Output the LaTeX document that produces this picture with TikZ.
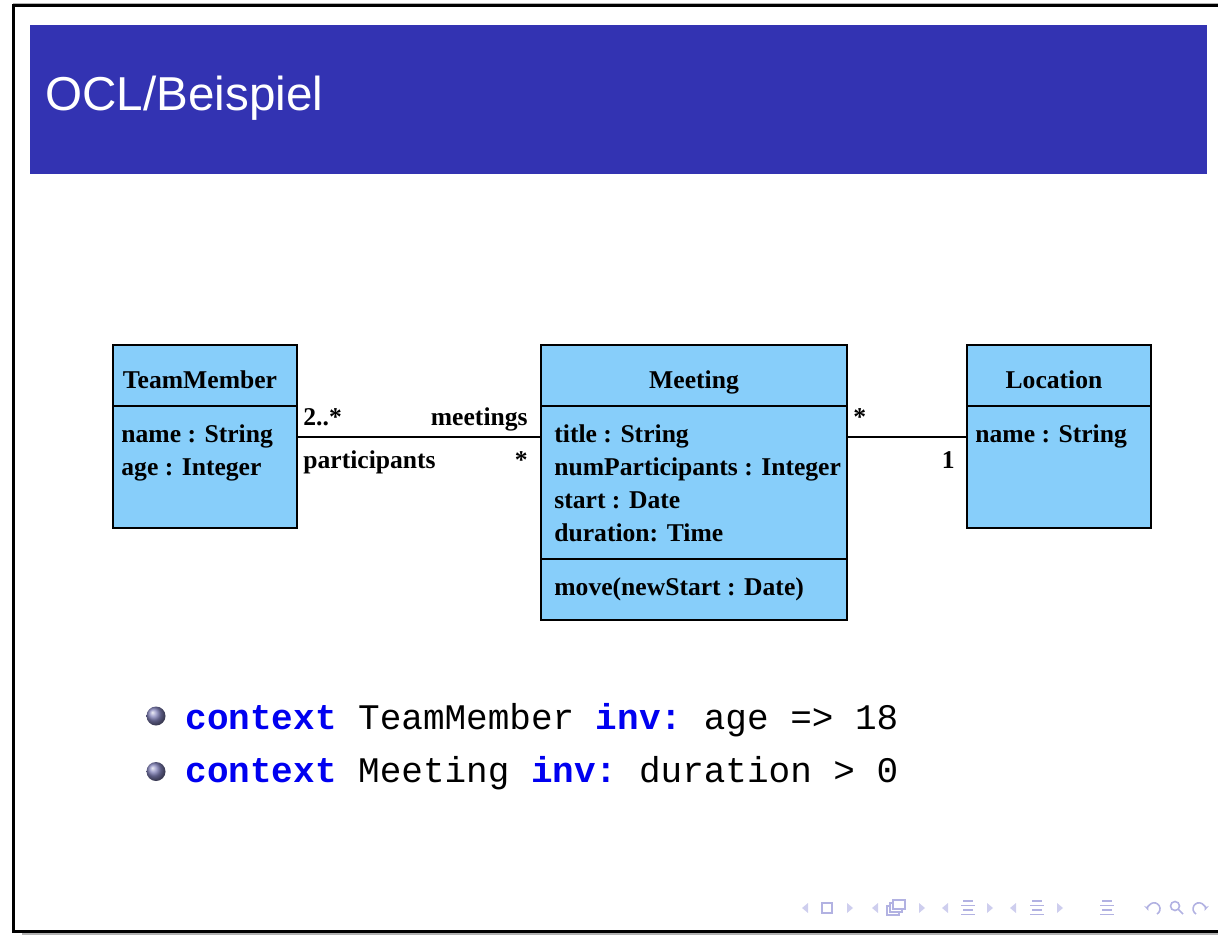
\documentclass[tikz,border=0pt]{standalone}
\usepackage{fontspec}
\setmainfont{Liberation Serif}
\setsansfont{Liberation Sans}
\setmonofont{Liberation Mono}
\usetikzlibrary{positioning,arrows.meta}

\definecolor{titleblue}{RGB}{51,51,178}
\definecolor{classfill}{RGB}{135,206,250}
\definecolor{kwblue}{RGB}{0,0,240}
\definecolor{navblue}{RGB}{178,178,226}
\definecolor{navlight}{RGB}{206,206,238}
\definecolor{balltone}{RGB}{130,130,186}

\newcommand{\kw}[1]{\textcolor{kwblue}{\textbf{#1}}}

\tikzset{
  umlbox/.style={draw=black, line width=1pt, fill=classfill, inner sep=0pt, outer sep=0pt},
  clsname/.style={anchor=base, inner sep=0pt, font=\fontsize{12.8}{16.5}\selectfont\bfseries},
  attrs/.style={anchor=base west, inner sep=0pt, align=left, font=\fontsize{12.8}{16.5}\selectfont\bfseries},
  role/.style={inner sep=0pt, font=\fontsize{12.8}{16.5}\selectfont\bfseries},
  assoc/.style={line width=1pt},
  oclline/.style={anchor=base west, inner sep=0pt, font=\fontsize{18}{22}\selectfont\ttfamily},
  bulletball/.style={circle, inner sep=0pt, minimum size=9.5pt, shading=ball, ball color=balltone},
  nav/.style={draw=navblue, line width=0.8pt},
}

\begin{document}
\begin{tikzpicture}[x=0.5pt, y=-0.5pt]
\useasboundingbox (0,0) rectangle (1218,946);

% frame
\draw[gray!60, line width=0.8pt] (13,3.5) -- (1218,3.5);
\draw[gray!60, line width=0.8pt] (22,934) -- (1218,934);
\draw[line width=1.5pt] (1218,6) -- (13,6) -- (13,931) -- (1218,931);

% title bar
\fill[titleblue] (30,25) rectangle (1207,174);
\node[anchor=base west, inner sep=0pt, text=white, font=\sffamily\fontsize{23.8}{28}\selectfont] (title) at (45,111) {OCL/Beispiel};

% TeamMember (base anchor of a multi-line node = last line)
\node[umlbox, minimum width=92pt, minimum height=30.5pt, anchor=north west] (tmHead) at (113,345) {};
\node[umlbox, minimum width=92pt, minimum height=61pt, below=0pt of tmHead] (tmAttr) {};
\node[clsname] (tmName) at ([shift={(-5,13)}]tmHead.center) {TeamMember};
\node[attrs] (tmText) at ([shift={(8,69)}]tmAttr.north west) {name : String\\age : Integer};

% Meeting
\node[umlbox, minimum width=153pt, minimum height=30.5pt, anchor=north west] (mtHead) at (541,345) {};
\node[umlbox, minimum width=153pt, minimum height=76.5pt, below=0pt of mtHead] (mtAttr) {};
\node[umlbox, minimum width=153pt, minimum height=30.5pt, below=0pt of mtAttr] (mtOps) {};
\node[clsname] (mtName) at ([shift={(0,13)}]mtHead.center) {Meeting};
\node[attrs] (mtText) at ([shift={(13,135)}]mtAttr.north west) {title : String\\numParticipants : Integer\\start : Date\\duration: Time};
\node[attrs] (mtOpText) at ([shift={(13,36)}]mtOps.north west) {move(newStart : Date)};

% Location
\node[umlbox, minimum width=92pt, minimum height=30.5pt, anchor=north west] (locHead) at (967,345) {};
\node[umlbox, minimum width=92pt, minimum height=61pt, below=0pt of locHead] (locAttr) {};
\node[clsname] (locName) at ([shift={(-5,13)}]locHead.center) {Location};
\node[attrs] (locText) at ([shift={(8,36)}]locAttr.north west) {name : String};

% associations
\draw[assoc] ([shift={(0,31)}]tmAttr.north east) coordinate (pEnd) -- ([shift={(0,31)}]mtAttr.north west) coordinate (mEnd);
\node[role, anchor=base west] (multTm) at ([shift={(6,-12)}]pEnd) {2..*};
\node[role, anchor=base east] (roleMt) at ([shift={(-13,-12)}]mEnd) {meetings};
\node[role, anchor=base west] (roleTm) at ([shift={(6,31)}]pEnd) {participants};
\node[role, anchor=base east] (multMt) at ([shift={(-13,31)}]mEnd) {*};

\draw[assoc] ([shift={(0,31)}]mtAttr.north east) coordinate (mRight) -- ([shift={(0,31)}]locAttr.north west) coordinate (lEnd);
\node[role, anchor=base west] (multMtLoc) at ([shift={(6,-12)}]mRight) {*};
\node[role, anchor=base east] (multLoc) at ([shift={(-12,31)}]lEnd) {1};

% invariants
\node[bulletball] (b1) at (156,716) {};
\node[oclline] (inv1) at (185,729) {\kw{context} TeamMember \kw{inv:} age => 18};
\node[bulletball] (b2) at (156,771.5) {};
\node[oclline] (inv2) at (185,782) {\kw{context} Meeting \kw{inv:} duration > 0};

% navigation symbols
\foreach \x in {805,875,945,1013}
  \fill[navlight] (\x-3,908) -- (\x+3,903) -- (\x+3,913) -- cycle;
\foreach \x in {850,922,990,1060}
  \fill[navlight] (\x+3,908) -- (\x-3,903) -- (\x-3,913) -- cycle;
\draw[nav] (822,903) rectangle (832,913);
\foreach \d in {0,3,6}
  \draw[nav, fill=white] (887+\d,906-\d) rectangle (899+\d,915-\d);
\foreach \x in {968,1037,1107} {
  \draw[nav] (\x-5,901) -- (\x+5,901);
  \draw[nav] (\x-7,905.5) -- (\x+7,905.5);
  \draw[nav] (\x-5,910) -- (\x+5,910);
  \draw[nav] (\x-7,914.5) -- (\x+7,914.5);
}
\draw[nav, -{Stealth[length=3pt]}] (1157,914) arc (60:-200:6);
\draw[nav] (1175,906) circle (4.5);
\draw[nav] (1178.5,909.5) -- (1183,914);
\draw[nav, -{Stealth[length=3pt]}] (1196,914) arc (120:380:6);
\end{tikzpicture}
\end{document}
